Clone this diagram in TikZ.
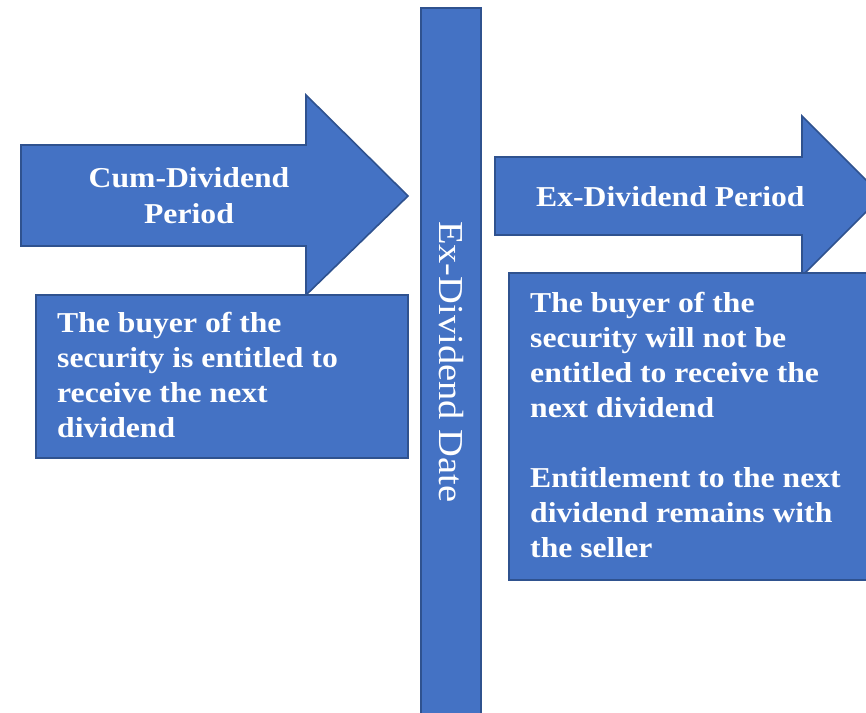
\documentclass[tikz,border=0pt]{standalone}
\usepackage{fontspec}
\setmainfont{Liberation Serif}[FakeStretch=1.1]
\definecolor{boxfill}{HTML}{4472C4}
\definecolor{boxline}{HTML}{2F528F}
\begin{document}
\begin{tikzpicture}[x=1pt,y=-1pt,
  blueshape/.style={fill=boxfill,draw=boxline,line width=1.6pt},
  bodytext/.style={text=white,font=\fontsize{28.8}{35}\selectfont\bfseries,inner sep=0pt,align=left},
  headtext/.style={text=white,font=\fontsize{28.8}{36}\selectfont\bfseries,inner sep=0pt,align=center},
  datetext/.style={text=white,font=\fontsize{35}{40}\selectfont,inner sep=0pt}]
\useasboundingbox (0,0) rectangle (866,712);
\begin{scope}
\clip (0,0) rectangle (866,712);
% left arrow
\draw[blueshape] (21,145) -- (306,145) -- (306,95) -- (408,196) -- (306,295) -- (306,246) -- (21,246) -- cycle;
% right arrow
\draw[blueshape] (495,157) -- (802,157) -- (802,116) -- (882,196) -- (802,276) -- (802,235) -- (495,235) -- cycle;
% boxes
\draw[blueshape] (36,295) rectangle (408,458);
\draw[blueshape] (509,273) rectangle (890,580);
% vertical bar
\draw[blueshape] (421,8) rectangle (481,730);
\end{scope}
% anchor=base refers to the baseline of the last line
\node[headtext,anchor=base] (cum) at (189,223) {Cum-Dividend\\Period};
\node[headtext,anchor=base west] (ex) at (536,206) {Ex-Dividend Period};
\node[bodytext,anchor=base west] (cumtxt) at (57,437) {The buyer of the\\security is entitled to\\receive the next\\dividend};
\node[bodytext,anchor=base west] (extxt) at (530,557) {The buyer of the\\security will not be\\entitled to receive the\\next dividend\\[35pt]Entitlement to the next\\dividend remains with\\the seller};
\node[datetext,anchor=base west,rotate=-90] (date) at (439,221) {Ex-Dividend Date};
\end{tikzpicture}
\end{document}
